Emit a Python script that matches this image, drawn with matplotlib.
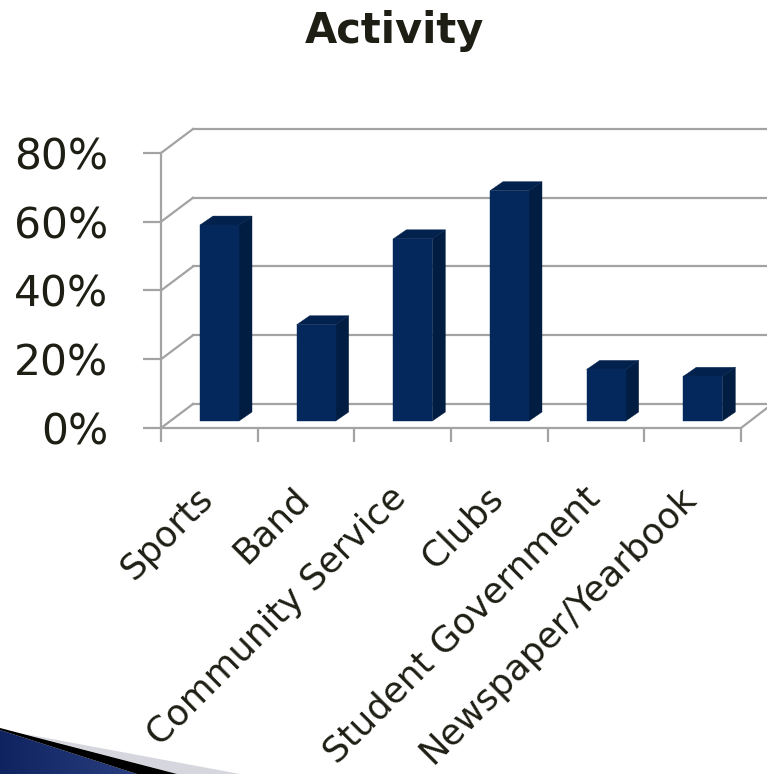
import numpy as np
import matplotlib
matplotlib.use("Agg")
import matplotlib.pyplot as plt
from matplotlib.patches import Polygon
from matplotlib.transforms import ScaledTranslation

# values
categories = ["Sports", "Band", "Community Service", "Clubs",
              "Student Government", "Newspaper/Yearbook"]
values = [57, 28, 53, 67, 15, 13]
y_ticks = [0, 20, 40, 60, 80]
y_labels = ["0%", "20%", "40%", "60%", "80%"]

W, H = 767, 774
GREY = "#a3a3a3"
TEXT = "#1e1e14"
FRONT = "#04285c"
SIDE = "#021d42"
TOP = "#03214d"

fig = plt.figure(figsize=(W / 100, H / 100), dpi=100)

# front plane of the fake 3d box, in pixels
left, right, bottom, top = 161, 741, 428, 153
ax = fig.add_axes([left / W, 1 - bottom / H, (right - left) / W, (bottom - top) / H])
ax.set_xlim(0, 6)
ax.set_ylim(0, 80)
ax.patch.set_alpha(0)

px_x = 6 / (right - left)
px_y = 80 / (bottom - top)

# box depth
dx, dy = 32 * px_x, 24 * px_y
for t in y_ticks:
    ax.plot([0, dx], [t, t + dy], color=GREY, lw=1.6, clip_on=False, zorder=1)
    ax.plot([dx, (W - left) * px_x], [t + dy, t + dy], color=GREY, lw=1.6, clip_on=False, zorder=1)
ax.plot([6, (W - left) * px_x], [0, 20 * px_y], color=GREY, lw=1.6, clip_on=False, zorder=1)

# bars
bar_w = 39 * px_x
off_x = 39 * px_x
base = 7 * px_y
bx, by = 13 * px_x, 9 * px_y
xs = np.arange(len(values))
for x, v in zip(xs, values):
    x0 = x + off_x
    x1 = x0 + bar_w
    ax.add_patch(Polygon([(x1, base), (x1 + bx, base + by), (x1 + bx, v + base + by), (x1, v + base)],
                         closed=True, fc=SIDE, ec=SIDE, lw=0.3, zorder=3))
    ax.add_patch(Polygon([(x0, v + base), (x0 + bx, v + base + by), (x1 + bx, v + base + by), (x1, v + base)],
                         closed=True, fc=TOP, ec=TOP, lw=0.3, zorder=3))
ax.bar(xs + off_x, values, width=bar_w, bottom=base, align="edge", color=FRONT,
       edgecolor=FRONT, linewidth=0.3, zorder=4)

for s in ["top", "right"]:
    ax.spines[s].set_visible(False)
for s in ["left", "bottom"]:
    ax.spines[s].set_color(GREY)
    ax.spines[s].set_linewidth(1.6)

ax.set_yticks(y_ticks)
ax.set_yticklabels(y_labels, fontsize=30.5, color=TEXT)
ax.set_xticks(range(7))
ax.set_xticklabels([])
ax.set_xticks(xs + 0.5, minor=True)
ax.set_xticklabels(categories, minor=True, rotation=45, ha="right", va="top",
                   rotation_mode="anchor", fontsize=25.7, color=TEXT)
ax.tick_params(axis="y", length=13, width=1.6, color=GREY, pad=25)
ax.tick_params(axis="x", which="major", length=10, width=1.6, color=GREY)
ax.tick_params(axis="x", which="minor", length=0, pad=38)
shift = ScaledTranslation(-14 / 100, 0, fig.dpi_scale_trans)
for lab in ax.get_xticklabels(minor=True):
    lab.set_transform(lab.get_transform() + shift)

fig.text(394 / W, 1 - 31 / H, "Activity", fontsize=30, fontweight="bold",
         color=TEXT, ha="center", va="center")

# slide decoration in the bottom left corner
deco = fig.add_axes([0, 0, 1, 1], zorder=5)
deco.axis("off")
deco.add_patch(Polygon([(25, 734), (240, 774), (177, 774)], closed=True, fc="#d6d7de", ec="none"))
deco.add_patch(Polygon([(0, 728), (177, 774), (137, 774), (0, 730)], closed=True, fc="black", ec="none"))
blue = Polygon([(0, 730), (137, 774), (0, 774)], closed=True, fc="none", ec="none")
deco.add_patch(blue)
grad = np.linspace(0, 1, 140).reshape(1, -1)
cmap = matplotlib.colors.LinearSegmentedColormap.from_list("deco", ["#0f2360", "#2a3f80"])
im = deco.imshow(grad, extent=[0, 140, 774, 730], cmap=cmap, aspect="auto")
im.set_clip_path(blue)
deco.set_xlim(0, W)
deco.set_ylim(H, 0)

fig.savefig("out.png", dpi=100)
